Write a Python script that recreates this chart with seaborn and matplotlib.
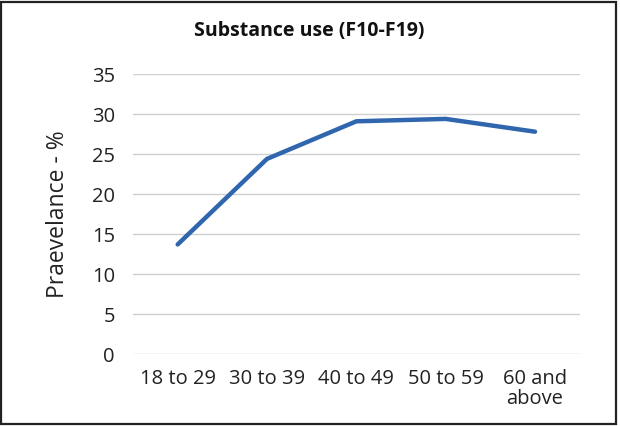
import matplotlib
matplotlib.use("Agg")
import matplotlib.pyplot as plt
import seaborn as sns
import pandas as pd
from matplotlib.patches import Rectangle

categories = ["18 to 29", "30 to 39", "40 to 49", "50 to 59", "60 and\nabove"]
prevalence = [13.7, 24.4, 29.1, 29.4, 27.8]
yticks = [0, 5, 10, 15, 20, 25, 30, 35]

sns.set_style("white")
plt.rcParams['font.family'] = ['Open Sans', 'DejaVu Sans']

df = pd.DataFrame({"Age": categories, "Prevalence": prevalence})

fig = plt.figure(figsize=(6.2, 4.26), dpi=100)
ax = fig.add_axes([0.2145, 0.169, 0.7205, 0.657])

sns.lineplot(data=df, x="Age", y="Prevalence", ax=ax, color="#2F66AE",
             linewidth=3.2, sort=False, solid_capstyle="round")

ax.set_xlim(-0.5, len(categories) - 0.5)
ax.set_ylim(0, 35)
ax.set_yticks(yticks)
ax.set_yticklabels([str(t) for t in yticks])
ax.grid(axis="y", color="#d0d0d0", linewidth=1.0)
ax.grid(axis="x", visible=False)
ax.set_axisbelow(True)
for s in ax.spines.values():
    s.set_visible(False)
ax.tick_params(axis="both", length=0, labelsize=14.5, colors="#222222")
ax.tick_params(axis="y", pad=13)
ax.tick_params(axis="x", pad=11)
ax.set_xlabel("")
ax.set_ylabel("Praevelance - %", fontsize=16.5, color="#222222", labelpad=16)
for lbl in ax.get_xticklabels():
    lbl.set_multialignment("center")
    lbl.set_linespacing(0.95)

fig.text(0.498, 0.928, "Substance use (F10-F19)", ha="center", va="center",
         fontsize=14, fontweight="bold", color="#111111")

fig.patches.append(Rectangle((0.002, 0.004), 0.992, 0.992, transform=fig.transFigure,
                             fill=False, edgecolor="#222222", linewidth=1.6))

fig.savefig("out.png", dpi=100)
